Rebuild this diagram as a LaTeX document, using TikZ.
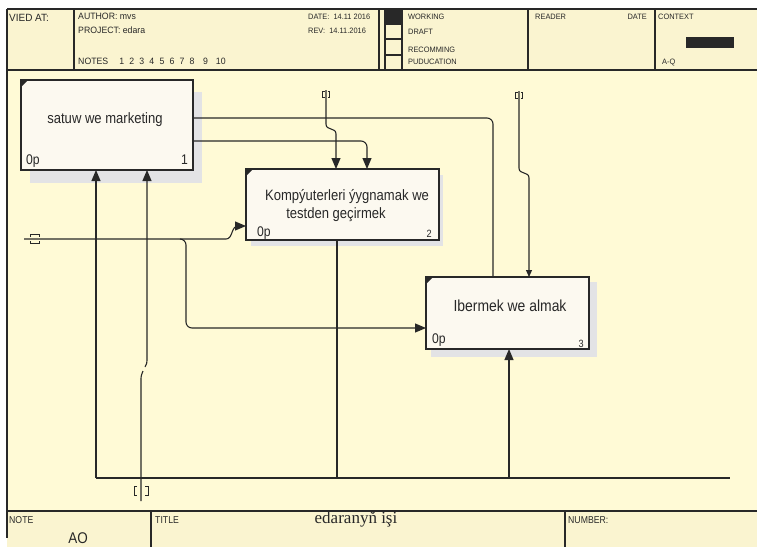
\documentclass[tikz,border=0pt]{standalone}
\usepackage{fontspec}
\setmainfont{Liberation Sans}
\newfontfamily\cond[FakeStretch=0.87]{Liberation Sans}
\newfontfamily\hdr[FakeStretch=0.95]{Liberation Sans}
\newfontfamily\ser{Liberation Serif}
\usetikzlibrary{arrows.meta,calc}
\definecolor{bgmain}{RGB}{255,250,214}
\definecolor{cell}{RGB}{250,244,208}
\definecolor{boxfill}{RGB}{252,249,240}
\definecolor{shadowc}{RGB}{227,227,229}
\definecolor{ink}{RGB}{40,40,40}
\begin{document}
\begin{tikzpicture}[x=1pt,y=-1pt,
  frame/.style={draw=ink,line width=1.3pt},
  conn/.style={draw=ink,line width=1.1pt},
  arr/.style={-{Triangle[length=11pt,width=9pt]}},
  sarr/.style={-{Triangle[length=7pt,width=6pt]}},
  tun/.style={draw=ink,line width=0.9pt},
  box/.style={draw=ink,line width=1.4pt,fill=boxfill,anchor=north west,inner sep=0pt,outer sep=0pt},
  lbl/.style={anchor=base west,inner sep=0pt,text=ink},
  lblr/.style={anchor=base east,inner sep=0pt,text=ink},
  lblc/.style={anchor=base,inner sep=0pt,text=ink},
  hs/.style={font=\hdr\fontsize{9.2}{10}\selectfont},
  hxs/.style={font=\hdr\fontsize{7.8}{9}\selectfont},
  bt/.style={font=\cond\fontsize{15}{17}\selectfont},
  bn/.style={font=\cond\fontsize{14}{16}\selectfont},
  bsn/.style={font=\cond\fontsize{10.5}{12}\selectfont}]
\useasboundingbox (0,0) rectangle (757,547);
\fill[white] (0,0) rectangle (757,547);
\fill[bgmain] (7,70) rectangle (757,511);
\fill[cell] (7,9) rectangle (757,70);
\fill[cell] (7,511) rectangle (757,547);
% header grid
\draw[frame] (7,9) -- (757,9);
\draw[frame] (7,70) -- (757,70);
\draw[frame] (7,9) -- (7,538);
\draw[frame] (74,9) -- (74,70);
\draw[frame] (379,9) -- (379,70);
\draw[frame] (385,9) -- (385,70);
\draw[frame] (402,9) -- (402,70);
\draw[frame] (528,9) -- (528,70);
\draw[frame] (655,9) -- (655,70);
\fill[ink] (385,9) rectangle (402,24);
\draw[frame] (385,24) -- (402,24);
\draw[frame] (385,39) -- (402,39);
\draw[frame] (385,55) -- (402,55);
\fill[ink] (686,37) rectangle (734,48);
% footer grid
\draw[frame] (7,511) -- (757,511);
\draw[frame] (151,511) -- (151,547);
\draw[frame] (565,511) -- (565,547);
% header texts
\node[lbl,font=\hdr\fontsize{10.5}{12}\selectfont] (tvied) at (9,21) {VIED AT:};
\node[lbl,hs] (tauth) at (78,19.5) {AUTHOR: mvs};
\node[lbl,hs] (tproj) at (78,33.5) {PROJECT: edara};
\node[lbl,hs] (tnotes) at (78,64) {NOTES\hspace{11pt}1\hspace{5.2pt}2\hspace{5.2pt}3\hspace{5.2pt}4\hspace{5.2pt}5\hspace{5.2pt}6\hspace{5.2pt}7\hspace{5.2pt}8\hspace{8.5pt}9\hspace{8pt}10};
\node[lbl,hxs] (tdate) at (308,19.5) {DATE:\ \ 14.11 2016};
\node[lbl,hxs] (trev) at (308,33.5) {REV:\ \ 14.11.2016};
\node[lbl,hxs] (twork) at (408,19.5) {WORKING};
\node[lbl,hxs] (tdraft) at (408,34) {DRAFT};
\node[lbl,hxs] (treco) at (408,52) {RECOMMING};
\node[lbl,hxs] (tpubl) at (408,64) {PUDUCATION};
\node[lbl,hxs] (tread) at (535,19.5) {READER};
\node[lblr,hxs] (tdate2) at (647,19.5) {DATE};
\node[lbl,hxs] (tctx) at (658,19.5) {CONTEXT};
\node[lbl,hxs] (taq) at (662,64) {A-Q};
% footer texts
\node[lbl,font=\cond\fontsize{10}{12}\selectfont] (tnote) at (9,523) {NOTE};
\node[lblc,font=\cond\fontsize{15.5}{17}\selectfont] (tao) at (78,543) {AO};
\node[lbl,font=\cond\fontsize{10}{12}\selectfont] (ttitle) at (155,523) {TITLE};
\node[lblc,font=\ser\fontsize{17}{19}\selectfont] (tname) at (356,523) {edaranyň işi};
\node[lbl,font=\cond\fontsize{10}{12}\selectfont] (tnum) at (568,523) {NUMBER:};
% shadows
\fill[shadowc] (30,92) rectangle (202,183);
\fill[shadowc] (251,175) rectangle (443,246);
\fill[shadowc] (431,282) rectangle (597,357);
% boxes
\node[box,minimum width=172pt,minimum height=90pt] (b1) at (21,80) {};
\node[box,minimum width=193pt,minimum height=71pt] (b2) at (246,169) {};
\node[box,minimum width=163pt,minimum height=72pt] (b3) at (426,277) {};
\fill[ink] (b1.north west) -- ++(7,0) -- ++(-7,7) -- cycle;
\fill[ink] (b2.north west) -- ++(7,0) -- ++(-7,7) -- cycle;
\fill[ink] (b3.north west) -- ++(7,0) -- ++(-7,7) -- cycle;
% box texts
\node[lblc,bt] (x1) at (105,123) {satuw we marketing};
\node[lbl,bn] (x1a) at (26,164) {0p};
\node[lblr,bn] (x1b) at (188,164) {1};
\node[lblc,bt] (x2) at (347,200) {Kompýuterleri ýygnamak we};
\node[lblc,bt] (x2l) at (336,218) {testden geçirmek};
\node[lbl,bn] (x2a) at (257,236) {0p};
\node[lblr,bsn] (x2b) at (432,237) {2};
\node[lblc,font=\cond\fontsize{16}{18}\selectfont] (x3) at (510,311) {Ibermek we almak};
\node[lbl,bn] (x3a) at (432,343) {0p};
\node[lblr,bsn] (x3b) at (584,347) {3};
% free-end coordinates
\coordinate (tc1) at (326,90);
\coordinate (tc2) at (519,91);
\coordinate (tin) at (24,239);
\coordinate (brn) at (180,239);
\coordinate (tbm) at (141,501);
\coordinate (bl) at (96,478);
\coordinate (brt) at (730,478);
% connectors
\draw[conn,rounded corners=6pt] (b1.east |- 0,118) -- (493,118) -- (b3.north -| 493,0);
\draw[conn,arr,rounded corners=6pt] (b1.east |- 0,141) -- (367,141) -- (b2.north -| 367,0);
\draw[conn,arr] (tc1) -- (326,124) .. controls (326,131) and (336,127) .. (336,134) -- (b2.north -| 336,0);
\draw[conn,sarr] (tc2) -- (519,168) .. controls (519,175) and (529,171) .. (529,178) -- (b3.north -| 529,0);
\draw[conn,arr] (tin) -- (226,239) .. controls (233,239) and (231,226) .. (238,226) -- (b2.west |- 0,226);
\draw[conn,arr,rounded corners=6pt] (brn) -- (186,239) -- (186,328) -- (b3.west |- 0,328);
\draw[conn] (b2.south -| 337,0) -- (337,478);
\draw[conn] (bl) -- (brt);
\draw[conn,arr] (bl) -- (b1.south -| bl);
\draw[conn,arr] (509,478) -- (b3.south -| 509,0);
\draw[conn] (tbm) -- (141,381) .. controls (141,376) .. (143,371);
\draw[conn,arr] (145,367) .. controls (147,363) .. (147,357) -- (b1.south -| 147,0);
% tunnel marks
\draw[tun] (324.5,91) -- (322.5,91) -- (322.5,97) -- (324.5,97);
\draw[tun] (327.5,91) -- (329.5,91) -- (329.5,97) -- (327.5,97);
\draw[tun] (517.5,92) -- (515.5,92) -- (515.5,98) -- (517.5,98);
\draw[tun] (520.5,92) -- (522.5,92) -- (522.5,98) -- (520.5,98);
\draw[tun] (30,237) -- (30,234.5) -- (39,234.5) -- (39,237);
\draw[tun] (30,241) -- (30,243.5) -- (39,243.5) -- (39,241);
\draw[tun] (137,486) -- (134.5,486) -- (134.5,495) -- (137,495);
\draw[tun] (145,486) -- (148.5,486) -- (148.5,495) -- (145,495);
\end{tikzpicture}
\end{document}
